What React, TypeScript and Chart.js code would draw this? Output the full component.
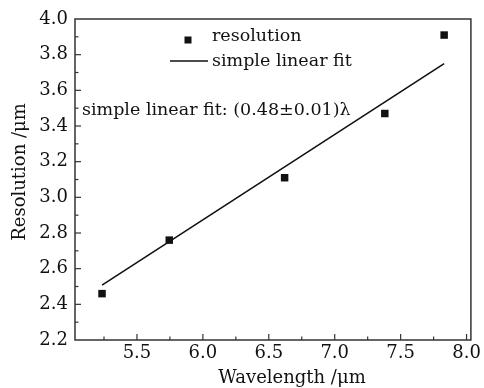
import React, { useEffect, useRef } from "react";
import { Chart, registerables } from "chart.js";

Chart.register(...registerables);

const wavelength = [5.235, 5.745, 6.62, 7.38, 7.83];
const resolution = [2.46, 2.76, 3.11, 3.47, 3.91];
const fitX = [5.235, 7.83];
const fitY = [2.508, 3.75];
const xTickValues = [5.5, 6.0, 6.5, 7.0, 7.5, 8.0];
const yTickValues = [2.2, 2.4, 2.6, 2.8, 3.0, 3.2, 3.4, 3.6, 3.8, 4.0];
const xTitle = "Wavelength /\u03bcm";
const yTitle = "Resolution /\u03bcm";
const seriesLabel = "resolution";
const fitLabel = "simple linear fit";
const fitNote = "simple linear fit: (0.48\u00b10.01)\u03bb";

const FONT = "'DejaVu Serif', serif";
const INK = "#111";
const AXIS = "#333";

const framePlugin = {
  id: "frameTicks",
  afterDraw(chart: any) {
    const { ctx, chartArea: a, scales } = chart;
    const xs = scales.x;
    const ys = scales.y;
    ctx.save();
    ctx.strokeStyle = AXIS;
    ctx.lineWidth = 1.5;
    ctx.strokeRect(a.left, a.top, a.right - a.left, a.bottom - a.top);
    ctx.lineWidth = 1.2;
    const xStep = 0.5;
    for (let v = 5.25; v <= 8.0001; v += xStep / 2) {
      const px = xs.getPixelForValue(v);
      if (px < a.left + 1 || px > a.right - 1) continue;
      const major = Math.abs(v / xStep - Math.round(v / xStep)) < 1e-6;
      const len = major ? 6 : 3.5;
      ctx.beginPath();
      ctx.moveTo(px, a.bottom);
      ctx.lineTo(px, a.bottom - len);
      ctx.stroke();
    }
    const yStep = 0.2;
    for (let v = 2.2; v <= 4.0001; v += yStep / 2) {
      const py = ys.getPixelForValue(v);
      if (py < a.top + 1 || py > a.bottom - 1) continue;
      const k = v / yStep;
      const major = Math.abs(k - Math.round(k)) < 1e-6;
      const len = major ? 6 : 3.5;
      ctx.beginPath();
      ctx.moveTo(a.left, py);
      ctx.lineTo(a.left + len, py);
      ctx.stroke();
    }
    // legend and note
    ctx.fillStyle = INK;
    ctx.strokeStyle = INK;
    ctx.font = `17.5px ${FONT}`;
    ctx.textBaseline = "middle";
    ctx.textAlign = "left";
    ctx.fillRect(188 - 3.5, 40 - 3.5, 7, 7);
    ctx.fillText(seriesLabel, 212, 36);
    ctx.lineWidth = 1.5;
    ctx.beginPath();
    ctx.moveTo(170, 61);
    ctx.lineTo(208, 61);
    ctx.stroke();
    ctx.fillText(fitLabel, 212, 61);
    ctx.fillText(fitNote, 82, 110);
    // axis titles
    ctx.font = `18px ${FONT}`;
    ctx.textAlign = "center";
    ctx.fillText(xTitle, 292, 378);
    ctx.translate(20, 172);
    ctx.rotate(-Math.PI / 2);
    ctx.fillText(yTitle, 0, 0);
    ctx.restore();
  },
};

export default function App() {
  const ref = useRef<HTMLCanvasElement | null>(null);
  useEffect(() => {
    if (!ref.current) return;
    const chart = new Chart(ref.current, {
      type: "scatter",
      data: {
        datasets: [
          {
            label: seriesLabel,
            data: wavelength.map((x, i) => ({ x, y: resolution[i] })),
            pointStyle: "rect",
            pointRadius: 5.3,
            pointBorderWidth: 0,
            backgroundColor: INK,
            borderColor: INK,
            showLine: false,
          },
          {
            label: fitLabel,
            data: fitX.map((x, i) => ({ x, y: fitY[i] })),
            showLine: true,
            pointRadius: 0,
            borderColor: INK,
            borderWidth: 1.6,
          },
        ],
      },
      options: {
        animation: false,
        responsive: true,
        maintainAspectRatio: false,
        layout: { padding: { top: 19, right: 12, left: 0, bottom: 0 } },
        plugins: { legend: { display: false }, tooltip: { enabled: false } },
        scales: {
          x: {
            type: "linear",
            min: 5.03,
            max: 8.033,
            afterBuildTicks: (s: any) => {
              s.ticks = xTickValues.map((value) => ({ value }));
            },
            afterFit: (s: any) => {
              s.height = 48;
            },
            grid: { display: false, drawTicks: false },
            border: { display: false },
            ticks: {
              padding: 3,
              color: INK,
              font: { family: FONT, size: 18 },
              callback: (v: any) => Number(v).toFixed(1),
            },
            title: { display: false },
          },
          y: {
            type: "linear",
            min: 2.2,
            max: 4.0,
            afterBuildTicks: (s: any) => {
              s.ticks = yTickValues.map((value) => ({ value }));
            },
            afterFit: (s: any) => {
              s.width = 75;
            },
            grid: { display: false, drawTicks: false },
            border: { display: false },
            ticks: {
              padding: 7,
              color: INK,
              font: { family: FONT, size: 18 },
              callback: (v: any) => Number(v).toFixed(1),
            },
            title: { display: false },
          },
        },
      },
      plugins: [framePlugin],
    });
    return () => chart.destroy();
  }, []);
  return (
    <div style={{ position: "fixed", left: 0, top: 0, width: 484, height: 388, background: "#fff" }}>
      <canvas ref={ref} />
    </div>
  );
}
